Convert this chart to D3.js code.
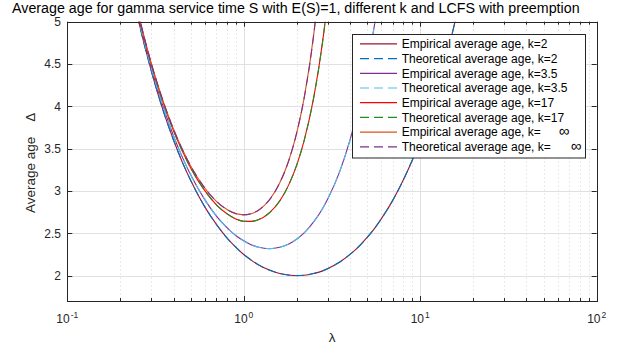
<!DOCTYPE html>
<html>
<head>
<meta charset="utf-8">
<script src="https://cdn.jsdelivr.net/npm/d3@7"></script>
<style>
  html, body { margin: 0; padding: 0; background: #fff; }
  svg { display: block; font-family: "Liberation Sans", Arial, Helvetica, sans-serif; }
</style>
</head>
<body>
<svg id="chart" width="624" height="347"></svg>
<script>
// ---------------- data ----------------
const lambda = [0.2, 0.25, 0.3, 0.35, 0.4, 0.45, 0.5, 0.6, 0.7, 0.8, 0.9, 1.0, 1.1, 1.2, 1.4, 1.6, 1.8, 2.0,
                2.2, 2.5, 2.8, 3.0, 3.5, 4, 4.5, 5, 5.5, 6, 7, 8, 9, 10, 12, 14, 16, 18];

const theoK2 = [6.050, 5.063, 4.408, 3.945, 3.600, 3.335, 3.125, 2.817, 2.604, 2.450, 2.336, 2.250, 2.184, 2.133,
                2.064, 2.025, 2.006, 2.000, 2.005, 2.025, 2.057, 2.083, 2.161, 2.250, 2.347, 2.450, 2.557, 2.667,
                2.893, 3.125, 3.361, 3.600, 4.083, 4.571, 5.063, 5.556];
const empK2 = [6.048, 5.060, 4.410, 3.943, 3.602, 3.334, 3.126, 2.815, 2.605, 2.449, 2.337, 2.249, 2.185, 2.132,
               2.065, 2.024, 2.007, 2.001, 2.004, 2.026, 2.056, 2.084, 2.160, 2.251, 2.346, 2.451, 2.556, 2.668,
               2.892, 3.126, 3.360, 3.601, 4.082, 4.572, 5.062, 5.555];

const theoK35 = [6.073, 5.092, 4.445, 3.989, 3.651, 3.393, 3.192, 2.900, 2.704, 2.569, 2.475, 2.410, 2.366, 2.338,
                 2.319, 2.334, 2.374, 2.432, 2.505, 2.639, 2.795, 2.910, 3.233, 3.601, 4.012, 4.465, 4.958, 5.491];
const empK35 = [6.071, 5.094, 4.443, 3.990, 3.650, 3.394, 3.191, 2.901, 2.703, 2.570, 2.474, 2.411, 2.365, 2.339,
                2.318, 2.335, 2.373, 2.433, 2.504, 2.640, 2.794, 2.911, 3.232, 3.602, 4.011, 4.466, 4.957, 5.492];

const theoK17 = [6.100, 5.127, 4.488, 4.040, 3.712, 3.465, 3.274, 3.006, 2.837, 2.732, 2.671, 2.642, 2.640, 2.657,
                 2.743, 2.884, 3.074, 3.313, 3.598, 4.121, 4.770, 5.281];
const empK17 = [6.098, 5.129, 4.486, 4.041, 3.711, 3.466, 3.273, 3.007, 2.836, 2.733, 2.670, 2.643, 2.641, 2.656,
                2.744, 2.883, 3.075, 3.312, 3.599, 4.120, 4.771, 5.280];

const theoKinf = [6.107, 5.136, 4.500, 4.055, 3.730, 3.485, 3.297, 3.037, 2.877, 2.782, 2.733, 2.718, 2.731, 2.767,
                  2.897, 3.096, 3.361, 3.695, 4.102, 4.873, 5.873];
const empKinf = [6.105, 5.138, 4.499, 4.056, 3.729, 3.486, 3.296, 3.038, 2.876, 2.783, 2.732, 2.719, 2.730, 2.768,
                 2.896, 3.097, 3.360, 3.696, 4.101, 4.874, 5.872];

const legendLabels = ["Empirical average age, k=2", "Theoretical average age, k=2",
                      "Empirical average age, k=3.5", "Theoretical average age, k=3.5",
                      "Empirical average age, k=17", "Theoretical average age, k=17",
                      "Empirical average age, k=", "Theoretical average age, k="];
const yTicks = [2, 2.5, 3, 3.5, 4, 4.5, 5];
const xTickExp = [-1, 0, 1, 2];
const titleText = "Average age for gamma service time S with E(S)=1, different k and LCFS with preemption";

// ---------------- styles ----------------
const seriesList = [
  { vals: empK2,    color: "#a2142f", dash: null },
  { vals: theoK2,   color: "#0072bd", dash: "9,5" },
  { vals: empK35,   color: "#7e2f8e", dash: null },
  { vals: theoK35,  color: "#4dbeee", dash: "9,5" },
  { vals: empK17,   color: "#ff0000", dash: null },
  { vals: theoK17,  color: "#1f8f1f", dash: "9,5" },
  { vals: empKinf,  color: "#d95319", dash: null },
  { vals: theoKinf, color: "#7e2f8e", dash: "9,5" }
];

const L = 67.3, R = 596.7, T = 21.7, B = 301;
const axisColor = "#262626";

const svg = d3.select("#chart");
const x = d3.scaleLog().domain([0.1, 100]).range([L, R]);
const y = d3.scaleLinear().domain([1.7, 5]).range([B, T]);

// clip
svg.append("defs").append("clipPath").attr("id", "plotclip")
  .append("rect").attr("x", L).attr("y", T).attr("width", R - L).attr("height", B - T);

// background
svg.append("rect").attr("x", L).attr("y", T).attr("width", R - L).attr("height", B - T).attr("fill", "#fff");

// minor x grid (dotted)
const minorX = [];
for (let e = -1; e < 2; e++) for (let m = 2; m <= 9; m++) minorX.push(m * Math.pow(10, e));
const grid = svg.append("g");
grid.selectAll("line.minx").data(minorX).join("line")
  .attr("x1", d => Math.round(x(d)) + 0.5).attr("x2", d => Math.round(x(d)) + 0.5)
  .attr("y1", T).attr("y2", B)
  .attr("stroke", "#d6d6d6").attr("stroke-width", 1).attr("stroke-dasharray", "1,3");
// major x grid
grid.selectAll("line.majx").data([1, 10]).join("line")
  .attr("x1", d => Math.round(x(d)) + 0.5).attr("x2", d => Math.round(x(d)) + 0.5)
  .attr("y1", T).attr("y2", B)
  .attr("stroke", "#e0e0e0").attr("stroke-width", 1);
// major y grid
grid.selectAll("line.majy").data(yTicks.slice(0, -1)).join("line")
  .attr("x1", L).attr("x2", R)
  .attr("y1", d => Math.round(y(d)) + 0.5).attr("y2", d => Math.round(y(d)) + 0.5)
  .attr("stroke", "#e0e0e0").attr("stroke-width", 1);

// curves
const line = d3.line().x(d => x(d[0])).y(d => y(d[1])).curve(d3.curveMonotoneX);
const curves = svg.append("g").attr("clip-path", "url(#plotclip)");
seriesList.forEach(s => {
  const pts = s.vals.map((v, i) => [lambda[i], v]);
  curves.append("path").attr("d", line(pts))
    .attr("fill", "none").attr("stroke", s.color).attr("stroke-width", 1.1)
    .attr("stroke-dasharray", s.dash);
});

// axes box & ticks
const ax = svg.append("g").attr("stroke", axisColor).attr("fill", "none");
ax.append("rect").attr("x", Math.round(L) + 0.5).attr("y", Math.round(T) + 0.5)
  .attr("width", Math.round(R) - Math.round(L)).attr("height", Math.round(B) - Math.round(T))
  .attr("stroke-width", 1);
// y ticks
yTicks.forEach(v => {
  const yy = Math.round(y(v)) + 0.5;
  ax.append("line").attr("x1", L).attr("x2", L + 5).attr("y1", yy).attr("y2", yy);
  ax.append("line").attr("x1", R - 5).attr("x2", R).attr("y1", yy).attr("y2", yy);
});
// x major ticks
xTickExp.forEach(e => {
  const xx = Math.round(x(Math.pow(10, e))) + 0.5;
  ax.append("line").attr("x1", xx).attr("x2", xx).attr("y1", B).attr("y2", B - 5);
  ax.append("line").attr("x1", xx).attr("x2", xx).attr("y1", T).attr("y2", T + 5);
});
// x minor ticks
minorX.forEach(v => {
  const xx = Math.round(x(v)) + 0.5;
  ax.append("line").attr("x1", xx).attr("x2", xx).attr("y1", B).attr("y2", B - 3);
  ax.append("line").attr("x1", xx).attr("x2", xx).attr("y1", T).attr("y2", T + 3);
});

// y tick labels
svg.append("g").selectAll("text").data(yTicks).join("text")
  .attr("x", 61).attr("y", d => y(d) + 4.3)
  .attr("text-anchor", "end").attr("font-size", 12).attr("fill", axisColor)
  .text(d => d);

// x tick labels 10^e
xTickExp.forEach(e => {
  const t = svg.append("text").attr("y", 323.3).attr("font-size", 12).attr("fill", axisColor);
  t.append("tspan").text("10");
  t.append("tspan").attr("font-size", 8.5).attr("dy", -5.5).attr("dx", 1).text(e);
  const w = t.node().getComputedTextLength() + 1;
  t.attr("x", x(Math.pow(10, e)) - w / 2);
});

// axis labels
svg.append("text").attr("x", (L + R) / 2).attr("y", 341.5).attr("text-anchor", "middle")
  .attr("font-size", 13.5).attr("fill", axisColor).text("λ");
const yl = svg.append("text").attr("transform", "translate(34.5,213) rotate(-90)")
  .attr("font-size", 13.5).attr("fill", axisColor);
yl.append("tspan").text("Average age");
yl.append("tspan").attr("dx", 15).text("Δ");

// title
const title = svg.append("text").attr("x", 12).attr("y", 13).attr("font-size", 14)
  .attr("fill", "#000").text(titleText);
const tw = title.node().getComputedTextLength();
title.attr("font-size", 14 * 568 / tw);

// legend
const lg = svg.append("g");
lg.append("rect").attr("x", 352.5).attr("y", 34.5).attr("width", 233).attr("height", 123.5)
  .attr("fill", "#fff").attr("stroke", axisColor).attr("stroke-width", 1);
legendLabels.forEach((lab, i) => {
  const cy = 43.9 + i * 14.7;
  const s = seriesList[i];
  lg.append("line").attr("x1", 360).attr("x2", 397).attr("y1", cy).attr("y2", cy)
    .attr("stroke", s.color).attr("stroke-width", 1.2).attr("stroke-dasharray", s.dash);
  const t = lg.append("text").attr("x", 401.7).attr("y", cy + 4.3).attr("font-size", 12).attr("fill", "#000");
  t.append("tspan").text(lab);
  if (i >= 6) {
    t.append("tspan").attr("dx", i === 6 ? 18 : 20).attr("font-size", 15).text("∞");
  }
});
</script>
</body>
</html>
